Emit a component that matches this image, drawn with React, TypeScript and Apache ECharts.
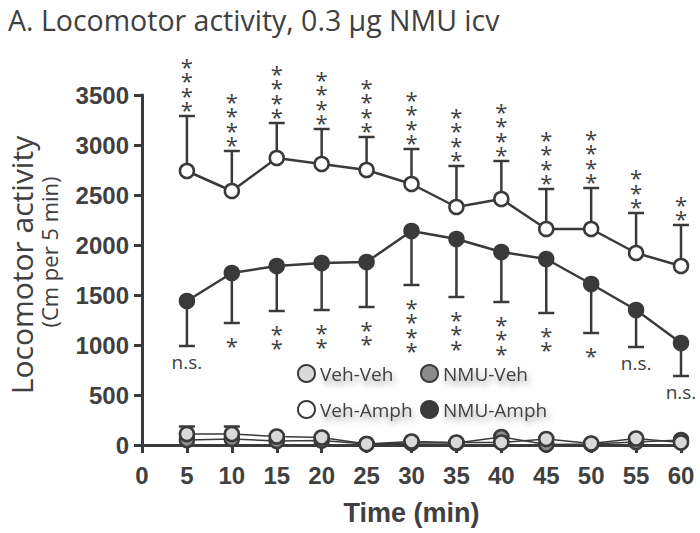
import React, { useEffect, useRef } from "react";
import * as echarts from "echarts";

const times = [5, 10, 15, 20, 25, 30, 35, 40, 45, 50, 55, 60];
const xTicks = [0, 5, 10, 15, 20, 25, 30, 35, 40, 45, 50, 55, 60];
const yTicks = [0, 500, 1000, 1500, 2000, 2500, 3000, 3500];

const vehVehMean = [110, 110, 85, 75, 10, 35, 25, 25, 60, 15, 65, 25];
const vehVehSem = [75, 75, 20, 20, 15, 15, 15, 15, 20, 15, 15, 15];
const nmuVehMean = [50, 60, 40, 45, 10, 20, 20, 80, 5, 10, 30, 50];
const nmuVehSem = [30, 30, 20, 20, 10, 10, 10, 20, 10, 10, 10, 20];
const vehAmphMean = [2740, 2540, 2870, 2810, 2750, 2610, 2380, 2460, 2160, 2160, 1920, 1790];
const vehAmphSem = [550, 400, 350, 350, 330, 350, 410, 380, 400, 410, 400, 410];
const nmuAmphMean = [1440, 1720, 1790, 1820, 1830, 2140, 2060, 1930, 1860, 1610, 1350, 1020];
const nmuAmphSem = [450, 500, 450, 470, 450, 540, 580, 500, 540, 490, 370, 330];

const topMarks = ["****", "****", "****", "****", "****", "****", "****", "****", "****", "****", "***", "**"];
const bottomMarks = ["n.s.", "*", "**", "**", "**", "****", "***", "***", "**", "*", "n.s.", "n.s."];

const INK = "#3a3a3a";
const TXT = "#404040";
const SANS = '"Open Sans", "Noto Sans", sans-serif';
const BOLD = '"Liberation Sans", Arial, sans-serif';

function errorSeries(name: string, means: number[], sems: number[], dir: number, z: number) {
  return {
    type: "custom",
    name: name + "-err",
    z,
    silent: true,
    data: times.map((t, i) => [t, means[i], means[i] + dir * sems[i]]),
    encode: { x: 0, y: [1, 2] },
    renderItem: (params: any, api: any) => {
      const p0 = api.coord([api.value(0), api.value(1)]);
      const p1 = api.coord([api.value(0), api.value(2)]);
      const hw = 8;
      const st = { stroke: INK, lineWidth: 2.5 };
      return {
        type: "group",
        children: [
          { type: "line", shape: { x1: p0[0], y1: p0[1], x2: p1[0], y2: p1[1] }, style: st },
          { type: "line", shape: { x1: p1[0] - hw, y1: p1[1], x2: p1[0] + hw, y2: p1[1] }, style: st },
        ],
      };
    },
  };
}

function markSeries(name: string, means: number[], sems: number[], dir: number, marks: string[]) {
  return {
    type: "custom",
    name: name + "-marks",
    z: 5,
    silent: true,
    data: times.map((t, i) => [t, means[i] + dir * sems[i]]),
    encode: { x: 0, y: 1 },
    renderItem: (params: any, api: any) => {
      const p = api.coord([api.value(0), api.value(1)]);
      const m = marks[params.dataIndex];
      if (m === "n.s.") {
        return {
          type: "text",
          x: p[0],
          y: p[1] + (dir > 0 ? -6 : 6),
          style: {
            text: m,
            font: "19px " + SANS,
            fill: TXT,
            textAlign: "center",
            textVerticalAlign: dir > 0 ? "bottom" : "top",
          },
        };
      }
      const step = 14.3;
      const first = dir > 0 ? -13 : 16;
      const children = m.split("").map((s, i) => ({
        type: "text",
        x: p[0],
        y: p[1] + (dir > 0 ? first - i * step : first + i * step) + 6,
        style: {
          text: s,
          font: "22px " + SANS,
          fill: TXT,
          textAlign: "center",
          textVerticalAlign: "middle",
        },
      }));
      return { type: "group", children };
    },
  };
}

function lineSeries(name: string, means: number[], fill: string, width: number, z: number) {
  return {
    type: "line",
    name,
    z,
    data: times.map((t, i) => [t, means[i]]),
    symbol: "circle",
    symbolSize: 14,
    itemStyle: { color: fill, borderColor: INK, borderWidth: 2.5 },
    lineStyle: { color: INK, width },
    emphasis: { disabled: true },
  };
}

export default function App() {
  const ref = useRef<HTMLDivElement>(null);
  useEffect(() => {
    if (!ref.current) return;
    const chart = echarts.init(ref.current, null, { renderer: "svg" });
    const legendText = {
      fontFamily: SANS,
      fontSize: 19,
      color: TXT,
      textShadowColor: "rgba(0,0,0,0.4)",
      textShadowBlur: 6,
      textShadowOffsetX: 2,
      textShadowOffsetY: 4,
    };
    const legendBase = {
      orient: "vertical",
      top: 359,
      itemGap: 17,
      itemWidth: 17,
      itemHeight: 17,
      itemTextGap: 3,
      icon: "circle",
      selectedMode: false,
      textStyle: legendText,
    };
    const option: any = {
      animation: false,
      backgroundColor: "#ffffff",
      grid: { left: 142, right: 19, top: 95, bottom: 88 },
      title: {
        text: "A. Locomotor activity, 0.3 μg NMU icv",
        left: 3,
        top: 0,
        textStyle: { fontFamily: SANS, fontWeight: "normal", fontSize: 28.5, color: TXT },
      },
      legend: [
        { ...legendBase, data: ["Veh-Veh", "Veh-Amph"], left: 292 },
        { ...legendBase, data: ["NMU-Veh", "NMU-Amph"], left: 415 },
      ],
      xAxis: {
        type: "value",
        min: xTicks[0],
        max: xTicks[xTicks.length - 1],
        interval: 5,
        name: "Time (min)",
        nameLocation: "middle",
        nameGap: 54,
        nameTextStyle: { fontFamily: BOLD, fontWeight: "bold", fontSize: 27, color: TXT },
        axisLine: { lineStyle: { color: INK, width: 3 } },
        axisTick: { length: 8, lineStyle: { color: INK, width: 3 } },
        axisLabel: { fontFamily: BOLD, fontWeight: "bold", fontSize: 24, color: TXT, margin: 18 },
        splitLine: { show: false },
      },
      yAxis: {
        type: "value",
        min: yTicks[0],
        max: yTicks[yTicks.length - 1],
        interval: 500,
        axisLine: { show: true, lineStyle: { color: INK, width: 3 } },
        axisTick: { show: true, length: 8, lineStyle: { color: INK, width: 3 } },
        axisLabel: {
          fontFamily: BOLD,
          fontWeight: "bold",
          fontSize: 24,
          color: TXT,
          margin: 13,
          formatter: (v: number) => String(v),
        },
        splitLine: { show: false },
      },
      graphic: [
        {
          type: "text",
          x: 21,
          y: 265,
          rotation: Math.PI / 2,
          style: {
            text: "Locomotor activity",
            font: "30px " + SANS,
            fill: TXT,
            textAlign: "center",
            textVerticalAlign: "middle",
          },
        },
        {
          type: "text",
          x: 49,
          y: 252,
          rotation: Math.PI / 2,
          style: {
            text: "(Cm per 5 min)",
            font: "22px " + SANS,
            fill: TXT,
            textAlign: "center",
            textVerticalAlign: "middle",
          },
        },
      ],
      series: [
        errorSeries("NMU-Veh", nmuVehMean, nmuVehSem, 1, 1),
        errorSeries("Veh-Veh", vehVehMean, vehVehSem, 1, 1),
        errorSeries("Veh-Amph", vehAmphMean, vehAmphSem, 1, 1),
        errorSeries("NMU-Amph", nmuAmphMean, nmuAmphSem, -1, 1),
        lineSeries("NMU-Veh", nmuVehMean, "#8c8c8c", 1.5, 2),
        lineSeries("Veh-Veh", vehVehMean, "#d9d9d9", 1.5, 3),
        lineSeries("Veh-Amph", vehAmphMean, "#ffffff", 2.5, 3),
        lineSeries("NMU-Amph", nmuAmphMean, "#3a3a3a", 2.5, 3),
        markSeries("Veh-Amph", vehAmphMean, vehAmphSem, 1, topMarks),
        markSeries("NMU-Amph", nmuAmphMean, nmuAmphSem, -1, bottomMarks),
      ],
    };
    chart.setOption(option);
    return () => chart.dispose();
  }, []);
  return (
    <div
      ref={ref}
      style={{ position: "fixed", left: 0, top: 0, width: 700, height: 533, background: "#fff" }}
    />
  );
}
